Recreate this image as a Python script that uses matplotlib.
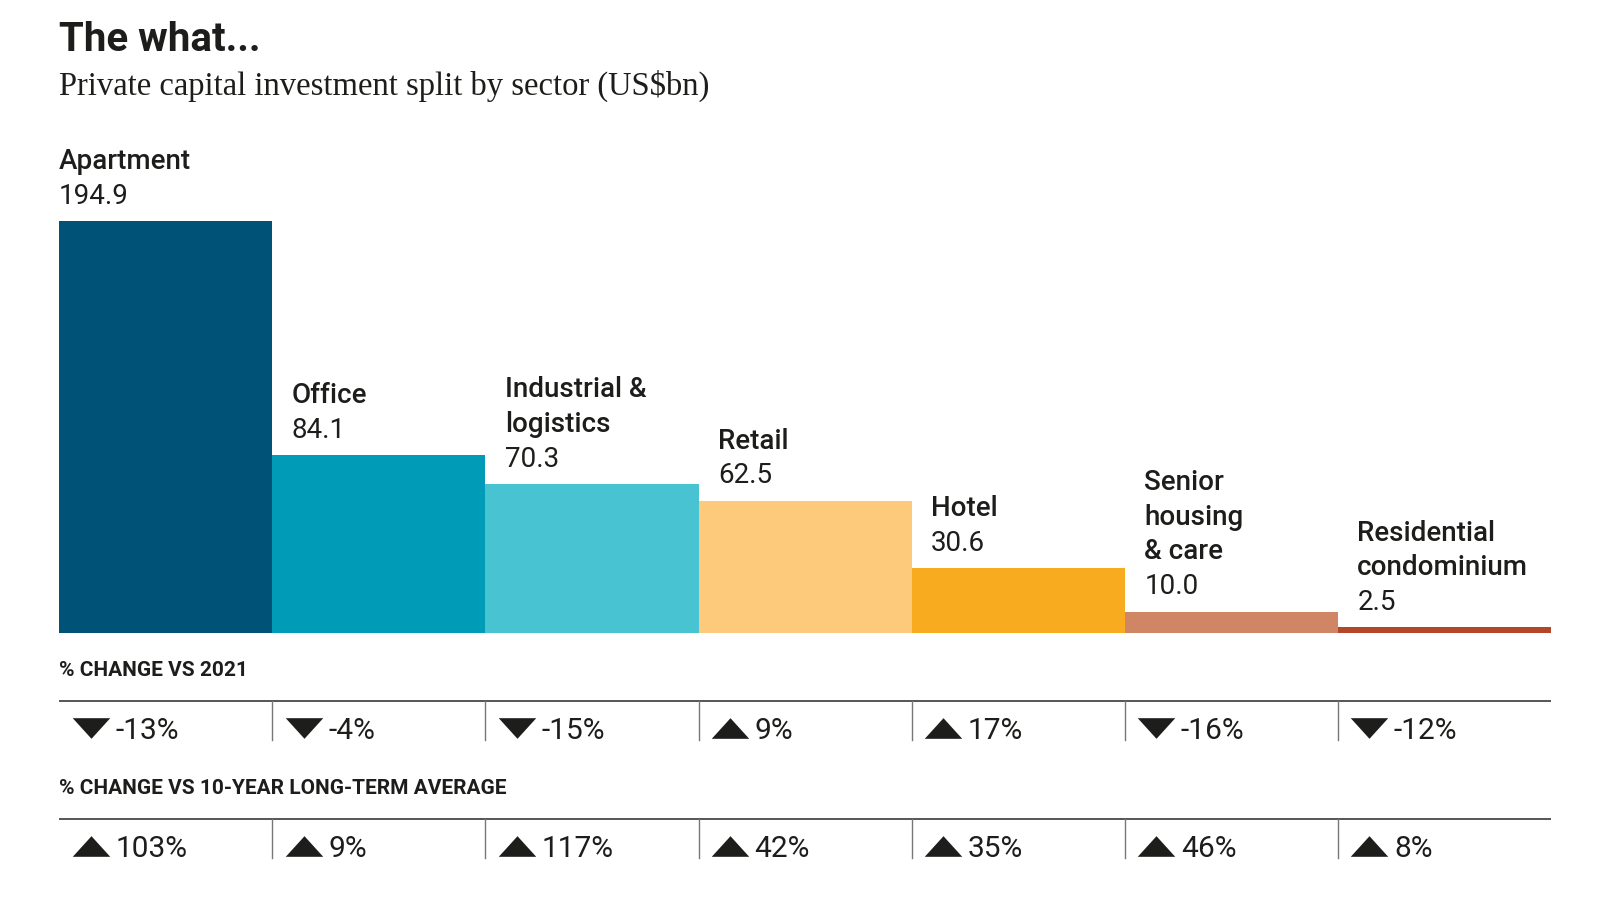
import matplotlib
matplotlib.use("Agg")
import matplotlib.pyplot as plt

# data
sectors = ["Apartment", "Office", "Industrial &\nlogistics", "Retail", "Hotel",
           "Senior\nhousing\n& care", "Residential\ncondominium"]
investment = [194.9, 84.1, 70.3, 62.5, 30.6, 10.0, 2.5]
change_2021 = [-13, -4, -15, 9, 17, -16, -12]
change_10yr = [103, 9, 117, 42, 35, 46, 8]
colors = ["#005277", "#009BB6", "#48C3D1", "#FDC97B", "#F9AB1F", "#D08564", "#B2472A"]

plt.rcParams['font.family'] = ['Roboto', 'DejaVu Sans']
ink = "#1d1d1b"

# layout grid (reference pixels), scaled into figure fractions
W, H = 1568, 884


def fx(x):
    return x / W


def fy(y):
    return 1 - y / H


fig = plt.figure(figsize=(16, 9.02), dpi=100)

fig.text(fx(58), fy(50), "The what...", fontsize=29, fontweight='bold',
         color=ink, va='baseline')
fig.text(fx(58), fy(93), "Private capital investment split by sector (US$bn)",
         family=['Liberation Serif', 'DejaVu Serif'], fontsize=23.5, color=ink,
         va='baseline')

# bars
ax = fig.add_axes([fx(58), fy(620), fx(1520) - fx(58), fy(217) - fy(620)])
n = len(investment)
ax.bar(range(n), investment, width=1.0, color=colors, align='center')
ax.set_xlim(-0.5, n - 0.5)
ax.set_ylim(0, max(investment))
ax.axis('off')

for i, (name, v) in enumerate(zip(sectors, investment)):
    dx = 0 if i == 0 else 14
    ax.annotate(f"{v:.1f}", (i - 0.5, v), xytext=(dx, 12.5), textcoords='offset points',
                fontsize=20, color=ink, va='baseline', annotation_clip=False)
    for k, line in enumerate(reversed(name.split("\n"))):
        ax.annotate(line, (i - 0.5, v), xytext=(dx, 12.5 + 25 * (k + 1)),
                    textcoords='offset points', fontsize=20, fontweight='medium',
                    color=ink, va='baseline', annotation_clip=False)

# table of % changes
tb = fig.add_axes([fx(58), fy(850), fx(1520) - fx(58), fy(640) - fy(850)])
tb.set_xlim(-0.5, n - 0.5)
tb.set_ylim(850, 640)
tb.axis('off')

up = [(-1, -0.55), (1, -0.55), (0, 0.55)]
down = [(-1, 0.55), (1, 0.55), (0, -0.55)]

rows = [("% CHANGE VS 2021", change_2021, 657, 687),
        ("% CHANGE VS 10-YEAR LONG-TERM AVERAGE", change_10yr, 773, 803)]

for header, vals, hy, ly in rows:
    tb.text(-0.5, hy, header, fontsize=15, fontweight='bold', color=ink, va='center')
    tb.plot([-0.5, n - 0.5], [ly, ly], color='#555555', lw=1.4, solid_capstyle='butt')
    for i in range(1, n):
        tb.plot([i - 0.5, i - 0.5], [ly, ly + 38], color='#777777', lw=1)
    for i, v in enumerate(vals):
        tb.plot(i - 0.5 + 0.148, ly + 26, marker=up if v > 0 else down,
                ms=27, color=ink, mew=0, linestyle='none')
        tb.text(i - 0.5 + 0.263, ly + 37, f"{v}%", fontsize=21.5, color=ink,
                va='baseline')

fig.savefig("out.png", dpi=100)
